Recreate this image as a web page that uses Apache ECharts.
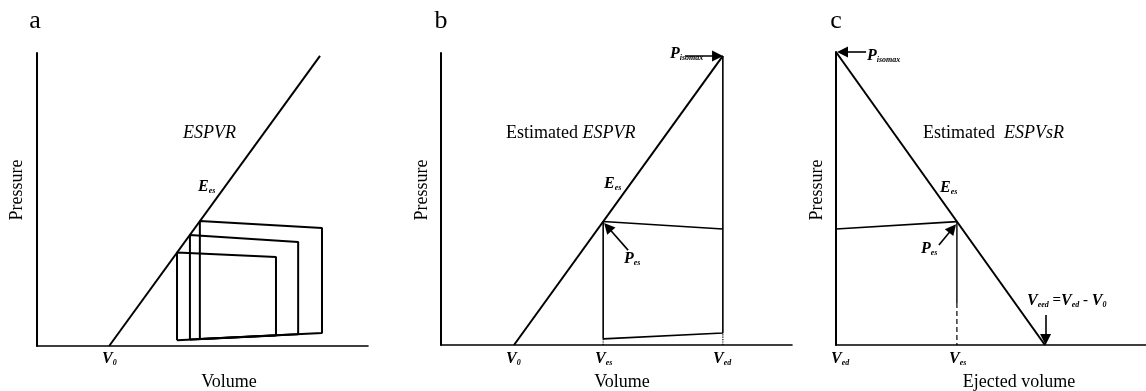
<!DOCTYPE html>
<html><head><meta charset="utf-8">
<script src="https://cdn.jsdelivr.net/npm/echarts@6/dist/echarts.min.js"></script>
<style>html,body{margin:0;padding:0;background:#fff}#c{width:1146px;height:391px}</style>
</head><body><div id="c"></div>
<script>
// ---- Data (arbitrary units: volume 0-100, pressure 0-100) ----
// Panel a
const aESPVR = [[21.8, 0], [85.5, 99]];
const aLoop1 = [[42.3, 2.0], [42.3, 31.9], [72.2, 30.4], [72.2, 3.6], [42.3, 2.0]];
const aLoop2 = [[46.2, 2.2], [46.2, 37.9], [78.9, 35.5], [78.9, 4.0], [46.2, 2.2]];
const aLoop3 = [[49.2, 2.4], [49.2, 42.7], [86.1, 40.3], [86.1, 4.4], [49.2, 2.4]];
// Panel b
const bESPVR = [[20.8, 0], [80.3, 99]];
const bLoop = [[46.2, 2.1], [46.2, 42.3], [80.3, 39.7], [80.3, 4.1], [46.2, 2.1]];
const bIsoLine = [[80.3, 39.7], [80.3, 99]];
const bDotVes = [[46.2, 0], [46.2, 2.1]];
const bDotVed = [[80.3, 0], [80.3, 4.1]];
const bArrowPiso = [[69.5, 99], [78.8, 99]];
const bArrowPes = [[53.3, 32.5], [47.5, 40.4]];
// Panel c
const cESPVsR = [[0, 100], [67.4, 0]];
const cLoopTop = [[0, 39.6], [39.0, 42.1]];
const cVesSolid = [[39.0, 42.1], [39.0, 14.3]];
const cVesDash = [[39.0, 14.3], [39.0, 0]];
const cArrowPiso = [[9.7, 100], [2.1, 100]];
const cArrowPes = [[33.2, 34.1], [37.6, 39.8]];
const cArrowVeed = [[67.6, 10.2], [67.6, 1.9]];

const SERIF = "'Liberation Serif','Times New Roman',serif";

function axisPair(grid) {
  return {
    x: {type: 'value', gridIndex: grid, min: 0, max: 100,
        axisLine: {show: true, onZero: false, lineStyle: {color: '#000', width: 1.6}},
        axisTick: {show: false}, axisLabel: {show: false}, splitLine: {show: false}},
    y: {type: 'value', gridIndex: grid, min: 0, max: 100,
        axisLine: {show: true, onZero: false, lineStyle: {color: '#000', width: 2}},
        axisTick: {show: false}, axisLabel: {show: false}, splitLine: {show: false}}
  };
}
const A = [axisPair(0), axisPair(1), axisPair(2)];

function line(grid, data, width, type, extra) {
  return Object.assign({
    type: 'line', xAxisIndex: grid, yAxisIndex: grid, data: data,
    symbol: 'none', showSymbol: false, silent: true,
    lineStyle: {color: '#000', width: width || 2, type: type || 'solid'}
  }, extra || {});
}
function arrows(list) {
  return {
    silent: true, symbol: ['none', 'triangle'], symbolSize: 11,
    label: {show: false}, lineStyle: {color: '#000', width: 1.6, type: 'solid'},
    itemStyle: {color: '#000'},
    emphasis: {disabled: true},
    data: list.map(p => [{coord: p[0]}, {coord: p[1]}])
  };
}

const rich = {
  m: {fontFamily: SERIF, fontStyle: 'italic', fontWeight: 'bold', fontSize: 16, lineHeight: 15, verticalAlign: 'top', fill: '#000'},
  s: {fontFamily: SERIF, fontStyle: 'italic', fontWeight: 'bold', fontSize: 8, lineHeight: 8, verticalAlign: 'top', padding: [9, 0, 0, 0], fill: '#000'},
  n: {fontFamily: SERIF, fontWeight: 'bold', fontSize: 15, lineHeight: 15, verticalAlign: 'top', fill: '#000'},
  r: {fontFamily: SERIF, fontSize: 18, lineHeight: 18, verticalAlign: 'top', fill: '#000'},
  it: {fontFamily: SERIF, fontStyle: 'italic', fontSize: 18, lineHeight: 18, verticalAlign: 'top', fill: '#000'}
};
function sym(x, base, text) {
  return {type: 'text', x: x, y: base - 12.6, silent: true,
          style: {text: text, rich: rich, align: 'left', verticalAlign: 'top', fill: '#000'}};
}
function plain(x, y, text, size, rot) {
  return {type: 'text', x: x, y: y, rotation: rot || 0, silent: true,
          style: {text: text, font: size + 'px ' + SERIF, fill: '#000', align: 'center', verticalAlign: 'middle'}};
}

const graphics = [
  plain(35, 21, 'a', 26), plain(441, 21, 'b', 26), plain(836, 21, 'c', 26),
  plain(17, 190, 'Pressure', 18, Math.PI / 2),
  plain(422, 190, 'Pressure', 18, Math.PI / 2),
  plain(817, 190, 'Pressure', 18, Math.PI / 2),
  plain(229, 382, 'Volume', 18), plain(622, 382, 'Volume', 18), plain(1019, 382, 'Ejected volume', 18),
  sym(183, 137, '{it|ESPVR}'),
  sym(102, 363, '{m|V}{s|0}'),
  sym(198, 191, '{m|E}{s|es}'),
  sym(506, 137, '{r|Estimated }{it|ESPVR}'),
  sym(604, 188, '{m|E}{s|es}'),
  sym(624, 263, '{m|P}{s|es}'),
  sym(670, 58, '{m|P}{s|isomax}'),
  sym(506, 363, '{m|V}{s|0}'),
  sym(595, 363, '{m|V}{s|es}'),
  sym(713, 363, '{m|V}{s|ed}'),
  sym(867, 60, '{m|P}{s|isomax}'),
  sym(923, 137, '{r|Estimated  }{it|ESPVsR}'),
  sym(940, 192, '{m|E}{s|es}'),
  sym(921, 253, '{m|P}{s|es}'),
  sym(1027, 305, '{m|V}{s|eed}{n| =}{m|V}{s|ed}{n| - }{m|V}{s|0}'),
  sym(831, 363, '{m|V}{s|ed}'),
  sym(949, 363, '{m|V}{s|es}')
];

const option = {
  animation: false,
  backgroundColor: '#fff',
  grid: [
    {left: 37, top: 53, width: 331, height: 293},
    {left: 441, top: 53, width: 351, height: 292},
    {left: 836, top: 52, width: 310, height: 293}
  ],
  xAxis: A.map(a => a.x),
  yAxis: A.map(a => a.y),
  series: [
    line(0, aESPVR, 2),
    line(0, aLoop1, 2), line(0, aLoop2, 2), line(0, aLoop3, 2),
    line(1, bESPVR, 2, 'solid', {markLine: arrows([bArrowPiso, bArrowPes])}),
    line(1, bLoop, 1.6), line(1, bIsoLine, 1.6),
    line(1, bDotVes, 1.2, 'dotted'), line(1, bDotVed, 1.2, 'dotted'),
    line(2, cESPVsR, 2, 'solid', {markLine: arrows([cArrowPiso, cArrowPes, cArrowVeed])}),
    line(2, cLoopTop, 1.6), line(2, cVesSolid, 1.4), line(2, cVesDash, 1.2, [5, 3])
  ],
  graphic: graphics
};
echarts.init(document.getElementById('c')).setOption(option);
</script></body></html>
